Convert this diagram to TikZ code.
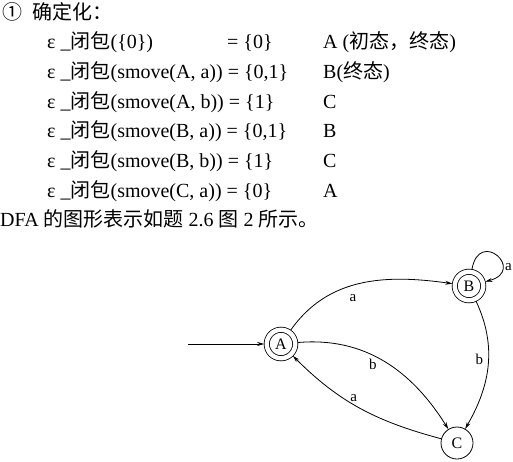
\documentclass[tikz,border=0pt]{standalone}
\usepackage{fontspec}
\setmainfont{Liberation Serif}
\newfontfamily\cjk{Noto Sans CJK SC}
\usetikzlibrary{arrows.meta}
\newcommand\zh[1]{{\cjk #1}}
\begin{document}
\begin{tikzpicture}[x=1pt,y=1pt,
  txt/.style={anchor=base west, inner sep=0pt, font=\fontsize{20}{22}\selectfont},
  acc/.style={circle, draw, double, double distance=4.4pt, line width=0.8pt, minimum size=28.5pt, inner sep=0pt, outer sep=2.6pt, font=\fontsize{16}{16}\selectfont},
  st/.style={circle, draw, line width=0.8pt, minimum size=32pt, inner sep=0pt, font=\fontsize{16}{16}\selectfont},
  tr/.style={line width=0.8pt, -{Stealth[length=7pt,width=4pt]}},
  lab/.style={font=\fontsize{15}{15}\selectfont, inner sep=1pt}
]
\useasboundingbox (0,0) rectangle (513,-462);
% text
\node[txt] (l1a) at (2,-20) {\zh{①}};
\node[txt] (l1b) at (32,-20) {\zh{确定化：}};
\node[txt] (r1) at (47,-49) {ε \_\zh{闭包}(\{0\})};
\node[txt] (r1e) at (227,-49) {= \{0\}};
\node[txt] (r1s) at (323,-49) {A (\zh{初态，终态})};
\node[txt] (r2) at (47,-78.6) {ε \_\zh{闭包}(smove(A, a)) = \{0,1\}};
\node[txt] (r2s) at (323,-78.6) {B(\zh{终态})};
\node[txt] (r3) at (47,-108.2) {ε \_\zh{闭包}(smove(A, b)) = \{1\}};
\node[txt] (r3s) at (323,-108.2) {C};
\node[txt] (r4) at (47,-137.8) {ε \_\zh{闭包}(smove(B, a)) = \{0,1\}};
\node[txt] (r4s) at (323,-137.8) {B};
\node[txt] (r5) at (47,-167.4) {ε \_\zh{闭包}(smove(B, b)) = \{1\}};
\node[txt] (r5s) at (323,-167.4) {C};
\node[txt] (r6) at (47,-197) {ε \_\zh{闭包}(smove(C, a)) = \{0\}};
\node[txt] (r6s) at (323,-197) {A};
\node[txt] (dfa) at (0,-226) {DFA \zh{的图形表示如题} 2.6 \zh{图} 2 \zh{所示。}};
% automaton
\node[acc] (A) at (281,-344) {A};
\node[acc] (B) at (469,-286) {B};
\node[st] (C) at (457,-443) {C};
\coordinate (s) at (188,-344);
\draw[tr] (s) -- (A);
\draw[tr] (A) to[out=55,in=172] node[lab,pos=0.45,below=8pt] {a} (B);
\draw[tr] (A) to[out=5,in=122] node[lab,pos=0.42,below=2pt] {b} (C);
\draw[tr] (C) to[out=165,in=-45] node[lab,pos=0.55,above=2pt] {a} (A);
\draw[tr] (B) to[out=-65,in=60] node[lab,pos=0.45,left=4pt] {b} (C);
\draw[tr] (B.80) to[out=80,in=15,looseness=6] node[lab,pos=0.72,right=2pt] {a} (B.15);
\end{tikzpicture}
\end{document}
